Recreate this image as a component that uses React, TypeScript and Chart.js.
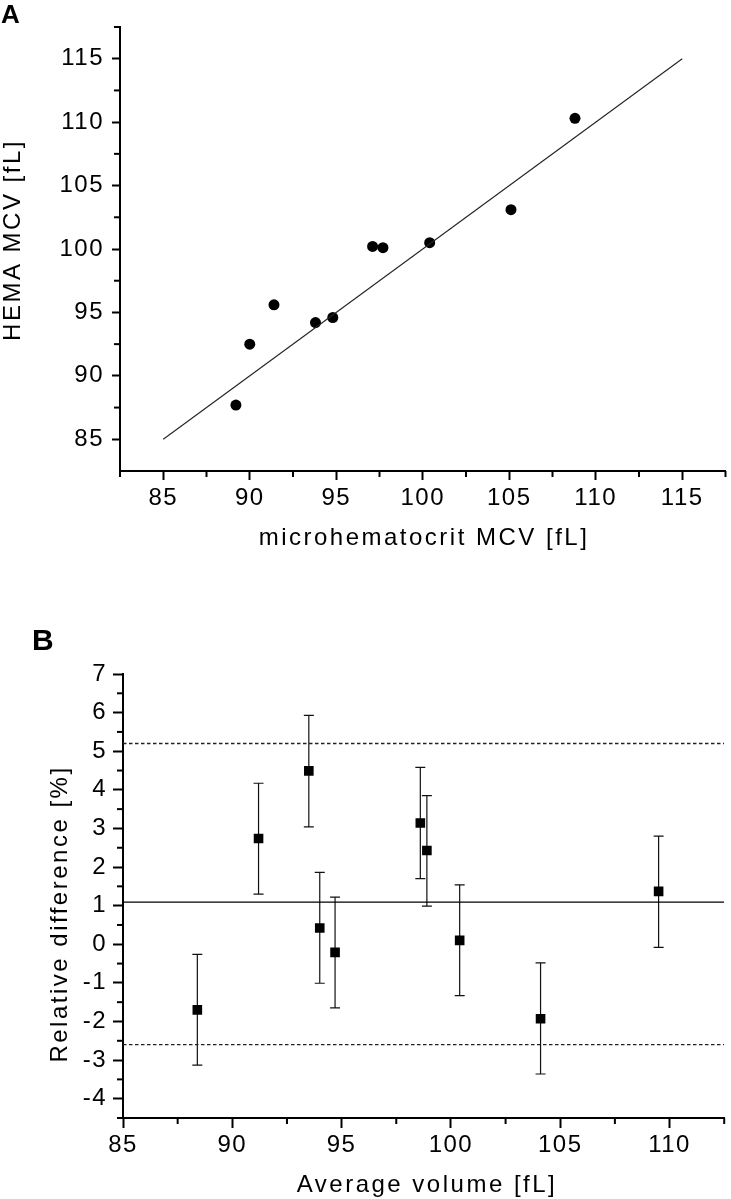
import React, { useEffect, useRef } from "react";
import { Chart, registerables } from "chart.js";

Chart.register(...registerables);

const FONT = "'Liberation Sans', Arial, Helvetica, sans-serif";

// ---------- Panel A: HEMA vs microhematocrit MCV ----------
const A_MICRO = [89.2, 90.0, 91.4, 93.8, 94.8, 97.1, 97.7, 100.4, 105.1, 108.8];
const A_HEMA = [87.7, 92.5, 95.6, 94.2, 94.6, 100.2, 100.1, 100.5, 103.1, 110.3];
const A_IDENTITY = [85, 115];
const A_RANGE = [82.5, 117.5];
const A_X_MAJOR = [85, 90, 95, 100, 105, 110, 115];
const A_X_MINOR = [82.5, 87.5, 92.5, 97.5, 102.5, 107.5, 112.5, 117.5];
const A_Y_MAJOR = [85, 90, 95, 100, 105, 110, 115];
const A_Y_MINOR = [87.5, 92.5, 97.5, 102.5, 107.5, 112.5, 117.5];

// ---------- Panel B: Bland-Altman ----------
const B_AVG = [88.4, 91.2, 93.5, 94.0, 94.7, 98.6, 98.9, 100.4, 104.1, 109.5];
const B_DIFF = [-1.7, 2.74, 4.49, 0.42, -0.21, 3.14, 2.43, 0.1, -1.93, 1.37];
const B_LOW = [-3.13, 1.3, 3.04, -1.01, -1.65, 1.7, 0.99, -1.33, -3.36, -0.08];
const B_HIGH = [-0.26, 4.17, 5.93, 1.86, 1.22, 4.58, 3.85, 1.54, -0.48, 2.8];
const B_MEAN = 1.09;
const B_LOA = [-2.6, 5.2];
const B_X_RANGE = [85, 112.5];
const B_Y_RANGE = [-4.5, 7];
const B_X_MAJOR = [85, 90, 95, 100, 105, 110];
const B_X_MINOR = [87.5, 92.5, 97.5, 102.5, 107.5, 112.5];
const B_Y_MAJOR = [-4, -3, -2, -1, 0, 1, 2, 3, 4, 5, 6, 7];
const B_Y_MINOR = [-4.5, -3.5, -2.5, -1.5, -0.5, 0.5, 1.5, 2.5, 3.5, 4.5, 5.5, 6.5];

type Decor = {
  xMinor: number[];
  yMinor: number[];
  minorLen: number;
  panel: string;
  panelSize: number;
  panelX: number;
  panelY: number;
  xTitle: string;
  xTitleX: number;
  xTitleY: number;
  yTitle: string;
  yTitleX: number;
  yTitleY: number;
  errors?: { x: number[]; low: number[]; high: number[] };
};

function makeDecor(cfg: Decor) {
  return {
    id: "decor",
    beforeDraw(chart: any) {
      chart.ctx.letterSpacing = "1.5px";
    },
    beforeDatasetsDraw(chart: any) {
      if (!cfg.errors) return;
      const ctx = chart.ctx;
      const xs = chart.scales.x;
      const ys = chart.scales.y;
      ctx.save();
      ctx.strokeStyle = "#111";
      ctx.lineWidth = 1.2;
      cfg.errors.x.forEach((xv, i) => {
        const px = xs.getPixelForValue(xv);
        const pl = ys.getPixelForValue(cfg.errors!.low[i]);
        const ph = ys.getPixelForValue(cfg.errors!.high[i]);
        ctx.beginPath();
        ctx.moveTo(px, pl);
        ctx.lineTo(px, ph);
        ctx.moveTo(px - 5, pl);
        ctx.lineTo(px + 5, pl);
        ctx.moveTo(px - 5, ph);
        ctx.lineTo(px + 5, ph);
        ctx.stroke();
      });
      ctx.restore();
    },
    afterDraw(chart: any) {
      const ctx = chart.ctx;
      const xs = chart.scales.x;
      const ys = chart.scales.y;
      ctx.save();
      ctx.strokeStyle = "#000";
      ctx.lineWidth = 2;
      for (const v of cfg.xMinor) {
        const px = xs.getPixelForValue(v);
        ctx.beginPath();
        ctx.moveTo(px, xs.top);
        ctx.lineTo(px, xs.top + cfg.minorLen);
        ctx.stroke();
      }
      for (const v of cfg.yMinor) {
        const py = ys.getPixelForValue(v);
        ctx.beginPath();
        ctx.moveTo(ys.right, py);
        ctx.lineTo(ys.right - cfg.minorLen, py);
        ctx.stroke();
      }
      ctx.fillStyle = "#000";
      ctx.textBaseline = "alphabetic";
      ctx.letterSpacing = "0px";
      ctx.textAlign = "left";
      ctx.font = `bold ${cfg.panelSize}px ${FONT}`;
      ctx.fillText(cfg.panel, cfg.panelX, cfg.panelY);

      ctx.letterSpacing = "2.5px";
      ctx.font = `24px ${FONT}`;
      ctx.textAlign = "center";
      ctx.fillText(cfg.xTitle, cfg.xTitleX, cfg.xTitleY);

      ctx.translate(cfg.yTitleX, cfg.yTitleY);
      ctx.rotate(-Math.PI / 2);
      ctx.fillText(cfg.yTitle, 0, 0);
      ctx.restore();
    },
  };
}

function axisCommon(tickLen: number, pad: number) {
  return {
    type: "linear" as const,
    ticks: {
      font: { family: FONT, size: 24 },
      color: "#000",
      padding: pad,
      maxRotation: 0,
      autoSkip: false,
      callback: (v: any) => String(v),
    },
    grid: {
      drawOnChartArea: false,
      tickLength: tickLen,
      tickWidth: 2,
      tickColor: "#000",
    },
    border: { color: "#000", width: 2 },
    title: { display: false },
  };
}

export default function App() {
  const refA = useRef<HTMLCanvasElement>(null);
  const refB = useRef<HTMLCanvasElement>(null);

  useEffect(() => {
    const ax = axisCommon(9, 4);
    const ay = axisCommon(8, 8);
    const chartA = new Chart(refA.current as HTMLCanvasElement, {
      type: "scatter",
      data: {
        datasets: [
          {
            type: "line",
            data: A_IDENTITY.map((v) => ({ x: v, y: v })),
            borderColor: "#222",
            borderWidth: 1.1,
            pointRadius: 0,
            fill: false,
            tension: 0,
          } as any,
          {
            type: "scatter",
            data: A_MICRO.map((x, i) => ({ x, y: A_HEMA[i] })),
            pointRadius: 5.5,
            pointStyle: "circle",
            backgroundColor: "#000",
            borderColor: "#000",
            borderWidth: 0,
          },
        ],
      },
      options: {
        responsive: false,
        animation: false,
        events: [],
        layout: { padding: { top: 27, right: 5, left: 0, bottom: 0 } },
        plugins: {
          legend: { display: false },
          tooltip: { enabled: false },
          title: { display: false },
        },
        scales: {
          x: {
            ...ax,
            min: A_RANGE[0],
            max: A_RANGE[1],
            afterBuildTicks: (s: any) => {
              s.ticks = A_X_MAJOR.map((v) => ({ value: v }));
            },
            afterFit: (s: any) => {
              s.height = 99;
            },
          },
          y: {
            ...ay,
            min: A_RANGE[0],
            max: A_RANGE[1],
            afterBuildTicks: (s: any) => {
              s.ticks = A_Y_MAJOR.map((v) => ({ value: v }));
            },
            afterFit: (s: any) => {
              s.width = 120;
            },
          },
        } as any,
      },
      plugins: [
        makeDecor({
          xMinor: A_X_MINOR,
          yMinor: A_Y_MINOR,
          minorLen: 6,
          panel: "A",
          panelSize: 26,
          panelX: 1,
          panelY: 23,
          xTitle: "microhematocrit MCV [fL]",
          xTitleX: 424,
          xTitleY: 545,
          yTitle: "HEMA MCV [fL]",
          yTitleX: 20,
          yTitleY: 240,
        }),
      ],
    });

    const bx = axisCommon(10, 3);
    const by = axisCommon(10, 6);
    const hline = (y: number, dash: number[], color: string, w: number) =>
      ({
        type: "line",
        data: B_X_RANGE.map((x) => ({ x, y })),
        borderColor: color,
        borderWidth: w,
        borderDash: dash,
        pointRadius: 0,
        fill: false,
        tension: 0,
      }) as any;

    const chartB = new Chart(refB.current as HTMLCanvasElement, {
      type: "scatter",
      data: {
        datasets: [
          hline(B_MEAN, [], "#000", 1.3),
          hline(B_LOA[0], [3.5, 2.5], "#222", 1.4),
          hline(B_LOA[1], [3.5, 2.5], "#222", 1.4),
          {
            type: "scatter",
            data: B_AVG.map((x, i) => ({ x, y: B_DIFF[i] })),
            pointRadius: 6.8,
            pointStyle: "rect",
            backgroundColor: "#000",
            borderColor: "#000",
            borderWidth: 0,
          },
        ],
      },
      options: {
        responsive: false,
        animation: false,
        events: [],
        layout: { padding: { top: 104, right: 1, left: 0, bottom: 0 } },
        plugins: {
          legend: { display: false },
          tooltip: { enabled: false },
          title: { display: false },
        },
        scales: {
          x: {
            ...bx,
            min: B_X_RANGE[0],
            max: B_X_RANGE[1],
            afterBuildTicks: (s: any) => {
              s.ticks = B_X_MAJOR.map((v) => ({ value: v }));
            },
            afterFit: (s: any) => {
              s.height = 81;
            },
          },
          y: {
            ...by,
            min: B_Y_RANGE[0],
            max: B_Y_RANGE[1],
            afterBuildTicks: (s: any) => {
              s.ticks = B_Y_MAJOR.map((v) => ({ value: v }));
            },
            afterFit: (s: any) => {
              s.width = 123;
            },
          },
        } as any,
      },
      plugins: [
        makeDecor({
          xMinor: B_X_MINOR,
          yMinor: B_Y_MINOR,
          minorLen: 6,
          panel: "B",
          panelSize: 30,
          panelX: 32,
          panelY: 80,
          xTitle: "Average volume [fL]",
          xTitleX: 427,
          xTitleY: 622,
          yTitle: "Relative difference [%]",
          yTitleX: 67,
          yTitleY: 344,
          errors: { x: B_AVG, low: B_LOW, high: B_HIGH },
        }),
      ],
    });

    return () => {
      chartA.destroy();
      chartB.destroy();
    };
  }, []);

  return (
    <div
      style={{
        position: "absolute",
        left: 0,
        top: 0,
        width: 731,
        height: 1199,
        background: "#fff",
        overflow: "hidden",
      }}
    >
      <canvas
        ref={refA}
        width={731}
        height={570}
        style={{ position: "absolute", left: 0, top: 0, width: 731, height: 570 }}
      />
      <canvas
        ref={refB}
        width={731}
        height={629}
        style={{ position: "absolute", left: 0, top: 570, width: 731, height: 629 }}
      />
    </div>
  );
}
